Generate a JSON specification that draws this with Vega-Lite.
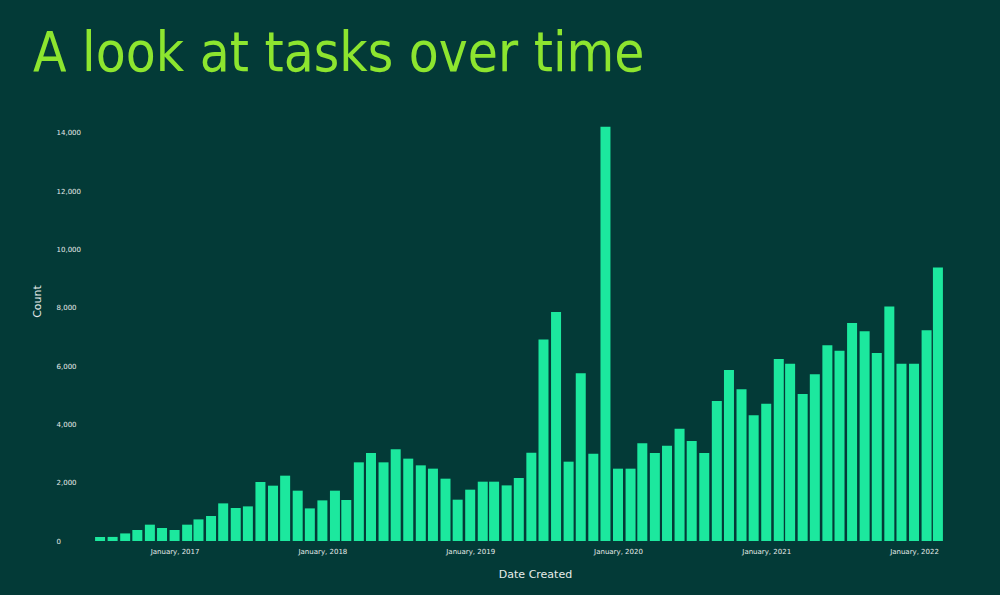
{
  "$schema": "https://vega.github.io/schema/vega-lite/v6.json",
  "autosize": {"type": "none"},
  "padding": {"left": 89, "top": 105, "right": 51, "bottom": 54},
  "width": 860,
  "height": 436,
  "background": "#033a37",
  "title": {
    "text": "A look at tasks over time",
    "anchor": "start",
    "frame": "bounds",
    "font": "DejaVu Sans Condensed",
    "fontSize": 54.5,
    "fontWeight": "normal",
    "color": "#8de52f",
    "offset": 23,
    "dx": 2
  },
  "data": {
    "values": [
      {"month": "2016-07-01", "count": 140},
      {"month": "2016-08-01", "count": 140},
      {"month": "2016-09-01", "count": 260},
      {"month": "2016-10-01", "count": 377},
      {"month": "2016-11-01", "count": 560},
      {"month": "2016-12-01", "count": 446},
      {"month": "2017-01-01", "count": 377},
      {"month": "2017-02-01", "count": 560},
      {"month": "2017-03-01", "count": 741},
      {"month": "2017-04-01", "count": 858},
      {"month": "2017-05-01", "count": 1290},
      {"month": "2017-06-01", "count": 1132},
      {"month": "2017-07-01", "count": 1187},
      {"month": "2017-08-01", "count": 2024},
      {"month": "2017-09-01", "count": 1897},
      {"month": "2017-10-01", "count": 2240},
      {"month": "2017-11-01", "count": 1726},
      {"month": "2017-12-01", "count": 1118},
      {"month": "2018-01-01", "count": 1393},
      {"month": "2018-02-01", "count": 1726},
      {"month": "2018-03-01", "count": 1406},
      {"month": "2018-04-01", "count": 2697},
      {"month": "2018-05-01", "count": 3019},
      {"month": "2018-06-01", "count": 2697},
      {"month": "2018-07-01", "count": 3143},
      {"month": "2018-08-01", "count": 2824},
      {"month": "2018-09-01", "count": 2594},
      {"month": "2018-10-01", "count": 2481},
      {"month": "2018-11-01", "count": 2137},
      {"month": "2018-12-01", "count": 1417},
      {"month": "2019-01-01", "count": 1760},
      {"month": "2019-02-01", "count": 2034},
      {"month": "2019-03-01", "count": 2034},
      {"month": "2019-04-01", "count": 1907},
      {"month": "2019-05-01", "count": 2161},
      {"month": "2019-06-01", "count": 3029},
      {"month": "2019-07-01", "count": 6905},
      {"month": "2019-08-01", "count": 7855},
      {"month": "2019-09-01", "count": 2720},
      {"month": "2019-10-01", "count": 5749},
      {"month": "2019-11-01", "count": 2995},
      {"month": "2019-12-01", "count": 14200},
      {"month": "2020-01-01", "count": 2480},
      {"month": "2020-02-01", "count": 2480},
      {"month": "2020-03-01", "count": 3348},
      {"month": "2020-04-01", "count": 3019},
      {"month": "2020-05-01", "count": 3269},
      {"month": "2020-06-01", "count": 3852},
      {"month": "2020-07-01", "count": 3430},
      {"month": "2020-08-01", "count": 3019},
      {"month": "2020-09-01", "count": 4802},
      {"month": "2020-10-01", "count": 5865},
      {"month": "2020-11-01", "count": 5200},
      {"month": "2020-12-01", "count": 4308},
      {"month": "2021-01-01", "count": 4705},
      {"month": "2021-02-01", "count": 6243},
      {"month": "2021-03-01", "count": 6082},
      {"month": "2021-04-01", "count": 5042},
      {"month": "2021-05-01", "count": 5715},
      {"month": "2021-06-01", "count": 6710},
      {"month": "2021-07-01", "count": 6527},
      {"month": "2021-08-01", "count": 7478},
      {"month": "2021-09-01", "count": 7190},
      {"month": "2021-10-01", "count": 6449},
      {"month": "2021-11-01", "count": 8037},
      {"month": "2021-12-01", "count": 6082},
      {"month": "2022-01-01", "count": 6082},
      {"month": "2022-02-01", "count": 7224},
      {"month": "2022-03-01", "count": 9375}
    ]
  },
  "mark": {"type": "bar", "color": "#1ce89e", "size": 10},
  "encoding": {
    "x": {
      "field": "month",
      "type": "temporal",
      "scale": {
        "type": "utc",
        "domain": [
          {"year": 2016, "month": 6, "date": 16, "utc": true},
          {"year": 2022, "month": 3, "date": 16, "utc": true}
        ]
      },
      "axis": {
        "title": "Date Created",
        "tickCount": {"interval": "year", "step": 1},
        "labelExpr": "utcFormat(datum.value, '%B, %Y')",
        "ticks": false,
        "domain": false,
        "grid": false,
        "labelFont": "DejaVu Sans",
        "labelFontSize": 7,
        "labelColor": "#e6ecea",
        "labelPadding": 6,
        "labelFlush": false,
        "labelOverlap": false,
        "titleFont": "DejaVu Sans",
        "titleFontSize": 11,
        "titleFontWeight": "normal",
        "titleColor": "#e6ecea",
        "titleX": 446,
        "titleY": 33,
        "titleBaseline": "middle"
      }
    },
    "y": {
      "field": "count",
      "type": "quantitative",
      "scale": {"domain": [0, 14950], "nice": false},
      "axis": {
        "title": "Count",
        "values": [0, 2000, 4000, 6000, 8000, 10000, 12000, 14000],
        "format": ",.0f",
        "ticks": false,
        "domain": false,
        "grid": false,
        "labelAlign": "left",
        "labelBaseline": "middle",
        "labelPadding": 33,
        "labelFont": "DejaVu Sans",
        "labelFontSize": 7,
        "labelColor": "#e6ecea",
        "titleFont": "DejaVu Sans",
        "titleFontSize": 11,
        "titleFontWeight": "normal",
        "titleColor": "#e6ecea",
        "titleAngle": -90,
        "titleX": -52,
        "titleY": 196,
        "titleAlign": "center",
        "titleBaseline": "middle"
      }
    }
  },
  "config": {"view": {"stroke": null}}
}
